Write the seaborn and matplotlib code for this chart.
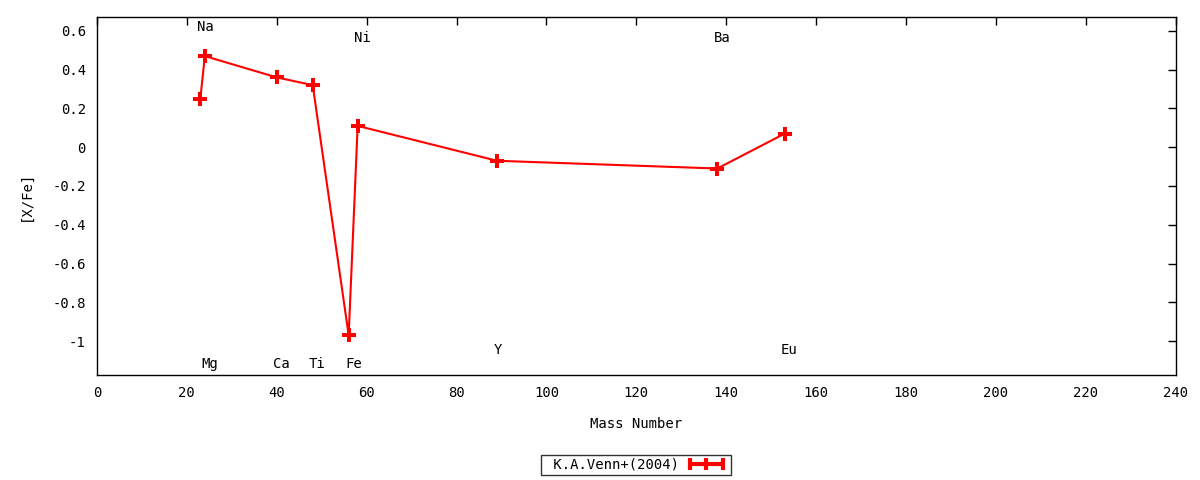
import matplotlib
matplotlib.use("Agg")
import matplotlib.pyplot as plt
import seaborn as sns
import pandas as pd
from matplotlib.lines import Line2D
from matplotlib.ticker import FuncFormatter, MultipleLocator

# Data
elements = ["Na", "Mg", "Ca", "Ti", "Fe", "Ni", "Y", "Ba", "Eu"]
mass_number = [23, 24, 40, 48, 56, 58, 89, 138, 153]
x_fe = [0.25, 0.47, 0.36, 0.32, -0.97, 0.11, -0.07, -0.11, 0.07]
label_y = [0.62, -1.12, -1.12, -1.12, -1.12, 0.565, -1.047, 0.565, -1.047]
series_name = "K.A.Venn+(2004)"

df = pd.DataFrame({"Mass Number": mass_number, "[X/Fe]": x_fe})

sns.set_style("white", rc={"text.color": "black", "axes.labelcolor": "black",
                           "xtick.color": "black", "ytick.color": "black",
                           "axes.edgecolor": "black"})
plt.rcParams["font.family"] = ["DejaVu Sans Mono", "DejaVu Sans"]
plt.rcParams["font.size"] = 10

FS = 10

fig = plt.figure(figsize=(12, 4.8), dpi=100)
ax = fig.add_axes([0.0808, 0.21875, 0.899, 0.746])

sns.lineplot(data=df, x="Mass Number", y="[X/Fe]", ax=ax, color="#ff0000",
             linewidth=1.5, marker="P", markersize=10, markeredgewidth=0,
             sort=False, legend=False)

for el, m, ly in zip(elements, mass_number, label_y):
    ax.text(m - 0.8, ly, el, ha="left", va="center", fontsize=FS, color="black")

ax.set_xlim(0, 240)
ax.set_ylim(-1.175, 0.672)
ax.xaxis.set_major_locator(MultipleLocator(20))
ax.yaxis.set_major_locator(MultipleLocator(0.2))

def yfmt(v, pos):
    if abs(v) < 1e-9:
        return "0"
    s = f"{v:.1f}"
    if s.endswith(".0"):
        s = s[:-2]
    return s

ax.yaxis.set_major_formatter(FuncFormatter(yfmt))
ax.tick_params(direction="in", length=6, width=1, top=True, right=True,
               labelsize=FS, color="black", labelcolor="black", pad=8)
for sp in ax.spines.values():
    sp.set_color("black")
    sp.set_linewidth(1)

ax.set_xlabel("Mass Number", fontsize=FS, labelpad=12, color="black")
ax.set_ylabel("[X/Fe]", fontsize=FS, labelpad=14, color="black")

handle = Line2D([], [], color="#ff0000", lw=3, marker="|", markersize=9,
                markeredgewidth=3)
leg = fig.legend([handle], [" " + series_name], loc="center",
                 bbox_to_anchor=(636 / 1200, 1 - 465 / 480),
                 numpoints=3, markerfirst=False, frameon=True, fancybox=False,
                 handlelength=3.0, borderpad=0.25, fontsize=FS,
                 handletextpad=0.5)
leg.get_frame().set_edgecolor("black")
leg.get_frame().set_linewidth(1)
for t in leg.get_texts():
    t.set_color("black")

fig.savefig("out.png", dpi=100)
